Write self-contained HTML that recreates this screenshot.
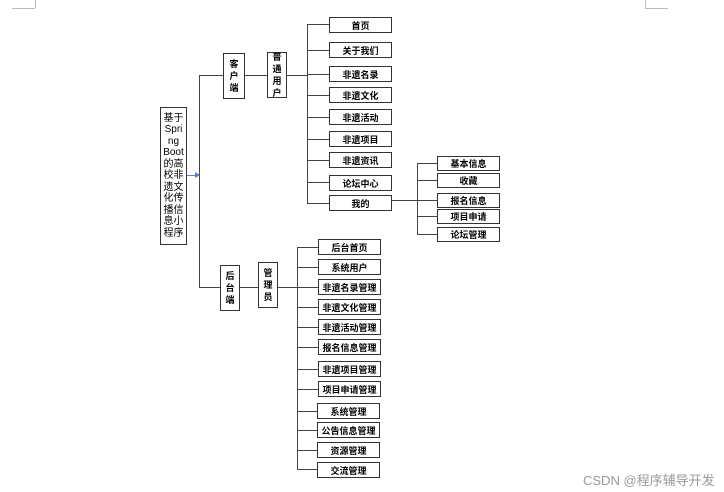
<!DOCTYPE html>
<html><head><meta charset="utf-8"><style>
body{margin:0;width:724px;height:492px;background:#fff;position:relative;overflow:hidden;font-family:"Liberation Sans","Noto Sans CJK SC",sans-serif}
.b{position:absolute;border:1.5px solid #333;box-sizing:border-box;background:#fff;display:flex;align-items:center;justify-content:center;font-size:9px;font-weight:bold;color:#000;white-space:nowrap}
.v{flex-direction:column;line-height:12px;font-size:9px}
.h{position:absolute;height:0;border-top:1.5px solid #444}
.l{position:absolute;width:0;border-left:1.5px solid #444}
.g{position:absolute;background:#bbb}
</style></head><body>
<div class="g" style="left:12px;top:8px;width:23px;height:1px"></div>
<div class="g" style="left:35px;top:0;width:1px;height:8px"></div>
<div class="g" style="left:645px;top:0;width:1px;height:8px"></div>
<div class="g" style="left:645px;top:8px;width:23px;height:1px"></div>

<div class="b v" style="left:160px;top:107px;width:27px;height:138px;font-weight:normal;font-size:10px;line-height:11.5px;text-align:center">基于<br>Spri<br>ng<br>Boot<br>的高<br>校非<br>遗文<br>化传<br>播信<br>息小<br>程序</div>
<div class="h" style="left:187px;top:175px;width:10px;border-color:#5a7fc0"></div>
<div style="position:absolute;left:195px;top:172px;width:0;height:0;border-left:5px solid #5a7fc0;border-top:3px solid transparent;border-bottom:3px solid transparent"></div>
<div class="l" style="left:199px;top:75px;height:213px"></div>
<div class="h" style="left:199px;top:75px;width:24px"></div>
<div class="h" style="left:199px;top:287px;width:21px"></div>

<div class="b v" style="left:223px;top:53px;width:22px;height:46px">客<br>户<br>端</div>
<div class="h" style="left:245px;top:75px;width:22px"></div>
<div class="b v" style="left:267px;top:52px;width:20px;height:46px">普<br>通<br>用<br>户</div>
<div class="h" style="left:287px;top:75px;width:20px"></div>
<div class="l" style="left:307px;top:24px;height:179px"></div>

<div class="h" style="left:307px;top:24px;width:22px"></div>
<div class="h" style="left:307px;top:50px;width:22px"></div>
<div class="h" style="left:307px;top:74px;width:22px"></div>
<div class="h" style="left:307px;top:95px;width:22px"></div>
<div class="h" style="left:307px;top:117px;width:22px"></div>
<div class="h" style="left:307px;top:139px;width:22px"></div>
<div class="h" style="left:307px;top:160px;width:22px"></div>
<div class="h" style="left:307px;top:182px;width:22px"></div>
<div class="h" style="left:307px;top:203px;width:22px"></div>
<div class="b" style="left:329px;top:17px;width:63px;height:16px">首页</div>
<div class="b" style="left:329px;top:42px;width:63px;height:16px">关于我们</div>
<div class="b" style="left:329px;top:66px;width:63px;height:16px">非遗名录</div>
<div class="b" style="left:329px;top:87px;width:63px;height:16px">非遗文化</div>
<div class="b" style="left:329px;top:109px;width:63px;height:16px">非遗活动</div>
<div class="b" style="left:329px;top:131px;width:63px;height:16px">非遗项目</div>
<div class="b" style="left:329px;top:152px;width:63px;height:16px">非遗资讯</div>
<div class="b" style="left:329px;top:175px;width:63px;height:16px">论坛中心</div>
<div class="b" style="left:329px;top:195px;width:63px;height:16px">我的</div>

<div class="h" style="left:392px;top:200px;width:26px"></div>
<div class="l" style="left:417px;top:163px;height:71px"></div>
<div class="h" style="left:417px;top:163px;width:20px"></div>
<div class="h" style="left:417px;top:180px;width:20px"></div>
<div class="h" style="left:417px;top:200px;width:20px"></div>
<div class="h" style="left:417px;top:216px;width:20px"></div>
<div class="h" style="left:417px;top:234px;width:20px"></div>
<div class="b" style="left:437px;top:156px;width:63px;height:15px">基本信息</div>
<div class="b" style="left:437px;top:173px;width:63px;height:15px">收藏</div>
<div class="b" style="left:437px;top:193px;width:63px;height:15px">报名信息</div>
<div class="b" style="left:437px;top:209px;width:63px;height:15px">项目申请</div>
<div class="b" style="left:437px;top:227px;width:63px;height:15px">论坛管理</div>

<div class="b v" style="left:220px;top:265px;width:20px;height:46px">后<br>台<br>端</div>
<div class="h" style="left:240px;top:287px;width:18px"></div>
<div class="b v" style="left:258px;top:262px;width:20px;height:46px">管<br>理<br>员</div>
<div class="h" style="left:278px;top:287px;width:19px"></div>
<div class="l" style="left:297px;top:247px;height:222px"></div>

<div class="h" style="left:297px;top:247px;width:21px"></div>
<div class="h" style="left:297px;top:267px;width:21px"></div>
<div class="h" style="left:297px;top:287px;width:21px"></div>
<div class="h" style="left:297px;top:307px;width:21px"></div>
<div class="h" style="left:297px;top:327px;width:21px"></div>
<div class="h" style="left:297px;top:347px;width:21px"></div>
<div class="h" style="left:297px;top:369px;width:21px"></div>
<div class="h" style="left:297px;top:389px;width:21px"></div>
<div class="h" style="left:297px;top:411px;width:21px"></div>
<div class="h" style="left:297px;top:430px;width:21px"></div>
<div class="h" style="left:297px;top:450px;width:21px"></div>
<div class="h" style="left:297px;top:469px;width:21px"></div>
<div class="b" style="left:318px;top:239px;width:63px;height:16px">后台首页</div>
<div class="b" style="left:318px;top:259px;width:63px;height:16px">系统用户</div>
<div class="b" style="left:318px;top:279px;width:63px;height:16px">非遗名录管理</div>
<div class="b" style="left:318px;top:299px;width:63px;height:16px">非遗文化管理</div>
<div class="b" style="left:318px;top:319px;width:63px;height:16px">非遗活动管理</div>
<div class="b" style="left:318px;top:339px;width:63px;height:16px">报名信息管理</div>
<div class="b" style="left:318px;top:361px;width:63px;height:16px">非遗项目管理</div>
<div class="b" style="left:318px;top:381px;width:63px;height:16px">项目申请管理</div>
<div class="b" style="left:317px;top:403px;width:63px;height:16px">系统管理</div>
<div class="b" style="left:317px;top:422px;width:63px;height:16px">公告信息管理</div>
<div class="b" style="left:317px;top:442px;width:63px;height:16px">资源管理</div>
<div class="b" style="left:317px;top:462px;width:63px;height:16px">交流管理</div>

<div style="position:absolute;left:583px;top:470px;font-size:13px;color:#999;white-space:nowrap">CSDN @程序辅导开发</div>
</body></html>
